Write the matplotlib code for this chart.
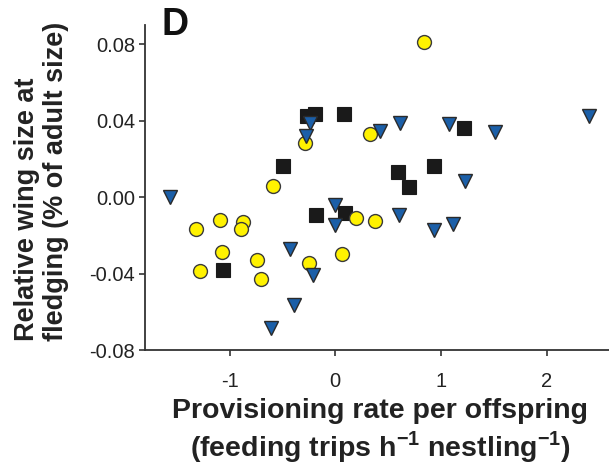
import matplotlib

matplotlib.use("Agg")
import matplotlib.pyplot as plt

plt.rcParams["font.family"] = ["Liberation Sans", "DejaVu Sans"]
plt.rcParams["mathtext.fontset"] = "custom"
plt.rcParams["mathtext.bf"] = "Liberation Sans:bold"
plt.rcParams["mathtext.rm"] = "Liberation Sans:bold"

# Puntos (x: tasa de aprovisionamiento, y: tamaño relativo del ala)
circle_x = [0.84, -0.29, 0.33, -0.59, -1.32, -1.09, -0.87, -0.89,
            -1.07, -1.28, -0.74, -0.70, -0.25, 0.06, 0.20, 0.38]
circle_y = [0.081, 0.0285, 0.0329, 0.0060, -0.0165, -0.0121, -0.0130, -0.0168,
            -0.0289, -0.0389, -0.0329, -0.0428, -0.0346, -0.0299, -0.0109, -0.0127]

square_x = [-0.27, -0.19, 0.08, -0.49, 1.22, 0.59, 0.70, 0.93, -1.06, -0.18, 0.09]
square_y = [0.0424, 0.0432, 0.0432, 0.0164, 0.0363, 0.0130, 0.0052, 0.0164,
            -0.0381, -0.0092, -0.0083]

tri_x = [-1.56, -0.24, -0.28, 0.42, 0.61, 1.08, 1.51, 2.40, 1.23,
         -0.43, -0.21, 0.0, 0.0, -0.39, -0.61, 0.60, 0.93, 1.11]
tri_y = [0.0, 0.0386, 0.0317, 0.0346, 0.0389, 0.0380, 0.0340, 0.0424, 0.0086,
         -0.0274, -0.0407, -0.0044, -0.0144, -0.0563, -0.0684, -0.0095, -0.0173, -0.0139]

x_ticks = [-1, 0, 1, 2]
y_ticks = [-0.08, -0.04, 0.0, 0.04, 0.08]
y_tick_labels = ["-0.08", "-0.04", "0.00", "0.04", "0.08"]

W, H = 609, 468
fig = plt.figure(figsize=(W / 100, H / 100), dpi=100)
ax = fig.add_axes([145 / W, 1 - 350 / H, 1 - 145 / W, (350 - 25) / H])

ax.plot(square_x, square_y, ls="none", marker="s", ms=10, mfc="#1a1a1a",
        mec="#1a1a1a", mew=0.8, zorder=3)
ax.plot(circle_x, circle_y, ls="none", marker="o", ms=10, mfc="#fff200",
        mec="#3a3a3a", mew=1.0, zorder=4)
ax.plot(tri_x, tri_y, ls="none", marker="v", ms=10.5, mfc="#1b5fa8",
        mec="#2a2a2a", mew=1.0, zorder=5)

ax.set_xlim(-1.8, 2.59)
ax.set_ylim(-0.08, 0.09)
ax.set_xticks(x_ticks)
ax.set_xticklabels([str(t) for t in x_ticks])
ax.set_yticks(y_ticks)
ax.set_yticklabels(y_tick_labels)

for side in ("top", "right"):
    ax.spines[side].set_visible(False)
for side in ("left", "bottom"):
    ax.spines[side].set_color("#333333")
    ax.spines[side].set_linewidth(1.3)

ax.tick_params(axis="both", direction="out", length=4, width=1.2, color="#333333",
               labelsize=14.5, labelcolor="#222222")
ax.tick_params(axis="x", pad=12)
ax.tick_params(axis="y", pad=3)

fig.text(41.5 / W, 1 - 181 / H, "Relative wing size at\nfledging (% of adult size)",
         rotation=90, ha="center", va="center", multialignment="left",
         fontsize=19.5, fontweight="bold", color="#222222", linespacing=1.15)

fig.text(380 / W, 1 - 398 / H,
         "Provisioning rate per offspring\n"
         r"(feeding trips h$^{\mathbf{-1}}$ nestling$^{\mathbf{-1}}$)",
         ha="center", va="top", multialignment="center",
         fontsize=20.5, fontweight="bold", color="#222222", linespacing=1.2)

fig.text(161 / W, 1 - 35 / H, "D", ha="left", va="baseline",
         fontsize=27, fontweight="bold", color="#111111")

fig.savefig("out.png", dpi=100)
plt.close(fig)
